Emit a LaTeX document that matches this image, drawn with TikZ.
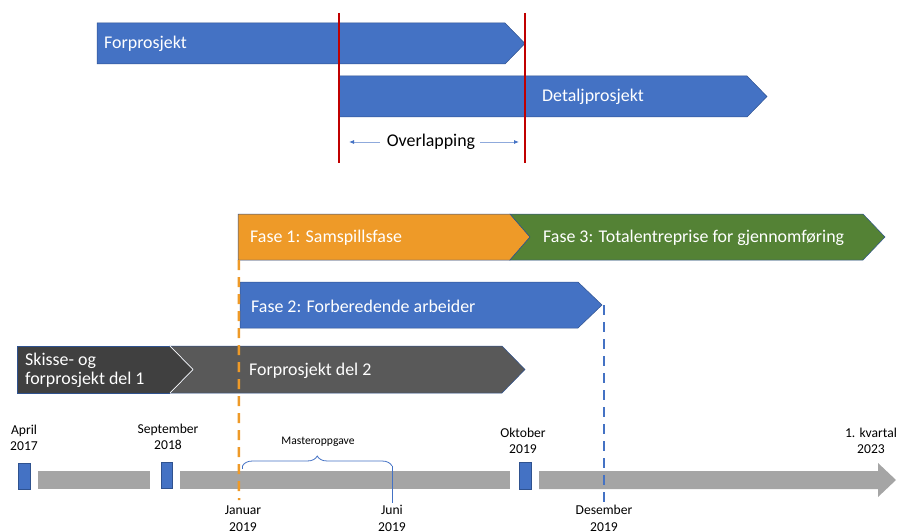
\documentclass[tikz,border=0pt]{standalone}
\usepackage{fontspec}
\setmainfont{Carlito}
\usetikzlibrary{decorations.pathreplacing,arrows.meta}
\definecolor{oblue}{HTML}{4472C4}
\definecolor{edgeblue}{HTML}{2F528F}
\definecolor{oorange}{HTML}{EE9A28}
\definecolor{ogreen}{HTML}{548235}
\definecolor{dgray}{HTML}{404040}
\definecolor{mgray}{HTML}{595959}
\definecolor{lgray}{HTML}{A5A5A5}
\definecolor{ored}{HTML}{C00000}
\definecolor{lightblue}{HTML}{8FAADC}
\tikzset{
  bar/.style={draw=edgeblue,line width=0.5pt},
  bigtxt/.style={text=white,font=\fontsize{17.9}{21}\selectfont,anchor=west,inner sep=0pt},
  datetxt/.style={font=\fontsize{13.6}{16.5}\selectfont,align=center,inner sep=0pt},
  marker/.style={fill=oblue,draw=edgeblue,line width=0.6pt},
  axisbar/.style={fill=lgray},
  redline/.style={draw=ored,line width=2pt},
  ovarrow/.style={draw=lightblue,line width=0.8pt,-{Latex[length=5pt,width=4pt,color=oblue]}},
  dashline/.style={line width=2.5pt,dash pattern=on 10pt off 7pt}
}
\begin{document}
\begin{tikzpicture}[x=1pt,y=-1pt]
\useasboundingbox (0,0) rectangle (905,532);

% ---- upper part: Forprosjekt / Detaljprosjekt ----
\fill[oblue,bar] (97,23) -- (505,23) -- (525,43.5) -- (505,64) -- (97,64) -- cycle;
\node[bigtxt] (forp) at (104,44) {Forprosjekt};
\fill[oblue,bar] (339,76) -- (747,76) -- (767,96.5) -- (747,117) -- (339,117) -- cycle;
\node[bigtxt] (detp) at (542,97) {Detaljprosjekt};

\coordinate (r1t) at (339,13);
\coordinate (r1b) at (339,163);
\coordinate (r2t) at (525,13);
\coordinate (r2b) at (525,163);
\draw[redline] (r1t) -- (r1b);
\draw[redline] (r2t) -- (r2b);

\node[font=\fontsize{17.9}{21}\selectfont,inner sep=0pt] (ov) at (431,142) {Overlapping};
\coordinate (ovl) at (349,142);
\coordinate (ovr) at (519,142);
\draw[ovarrow] ([xshift=-7pt]ov.west) -- (ovl);
\draw[ovarrow] ([xshift=5pt]ov.east) -- (ovr);

% ---- phases ----
\fill[oorange,bar] (238,214) -- (510,214) -- (530,237) -- (510,260) -- (238,260) -- cycle;
\fill[ogreen,bar] (510,214) -- (863,214) -- (885,237) -- (863,260) -- (510,260) -- (530,237) -- cycle;
\node[bigtxt] (f1) at (250,238) {Fase 1: Samspillsfase};
\node[bigtxt] (f3) at (543,238) {Fase 3: Totalentreprise for gjennomføring};

\fill[oblue,bar] (240,282) -- (578,282) -- (602,305) -- (578,328) -- (240,328) -- cycle;
\node[bigtxt] (f2) at (251,306) {Fase 2: Forberedende arbeider};

\fill[mgray,bar] (170,346) -- (502,346) -- (525,369.5) -- (502,393) -- (170,393) -- (193,369.5) -- cycle;
\fill[dgray] (17,346) -- (170,346) -- (193,369.5) -- (170,393) -- (17,393) -- cycle;
\draw[edgeblue,line width=0.5pt] (170,346) -- (17,346) -- (17,393) -- (170,393);
\draw[white,line width=0.7pt] (170,346) -- (193,369.5) -- (170,393);
\node[bigtxt,align=left,font=\fontsize{17.9}{19.5}\selectfont] (sk) at (25,370.5) {Skisse- og\\forprosjekt del 1};
\node[bigtxt] (fp2) at (249,371) {Forprosjekt del 2};

% ---- timeline ----
\fill[axisbar] (38,471) rectangle (150,489);
\fill[axisbar] (180,471) rectangle (510,489);
\fill[axisbar] (539,471) -- (878,471) -- (878,463) -- (896,480) -- (878,497) -- (878,489) -- (539,489) -- cycle;

\node[marker,minimum width=12pt,minimum height=26pt,inner sep=0pt] (mapr) at (24,476) {};
\node[marker,minimum width=11pt,minimum height=26pt,inner sep=0pt] (msep) at (166.5,475) {};
\node[marker,minimum width=12pt,minimum height=27pt,inner sep=0pt] (mokt) at (525.5,475.5) {};

\node[datetxt] (lapr) at (24,438) {April\\2017};
\node[datetxt] (lsep) at (168,437) {September\\2018};
\node[datetxt] (lokt) at (523,441) {Oktober\\2019};
\node[datetxt] (lkv) at (871,441) {1. kvartal\\2023};
\node[datetxt] (ljan) at (243,518.5) {Januar\\2019};
\node[datetxt] (ljun) at (392,518.5) {Juni\\2019};
\node[datetxt] (ldes) at (604,518.5) {Desember\\2019};

% ---- Masteroppgave brace ----
\coordinate (bl) at (242.5,466);
\coordinate (br) at (392,466);
\coordinate (brb) at (392,503);
\draw[oblue,line width=0.8pt,decorate,decoration={brace,amplitude=10pt}] (bl) -- (br);
\draw[oblue,line width=0.8pt] (br) -- (brb);
\draw[oblue,line width=0.8pt] (bl) -- ++(0,3);
\node[font=\fontsize{11.6}{14}\selectfont,inner sep=0pt] (mast) at (318,442) {Masteroppgave};

% ---- dashed milestone lines ----
\coordinate (jan) at (239,500);
\coordinate (des) at (604,502);
\draw[oorange,dashline] (238.8,260) -- (jan);
\draw[oblue,dashline] (602,305) ++(2,0) -- (des);
\end{tikzpicture}
\end{document}
